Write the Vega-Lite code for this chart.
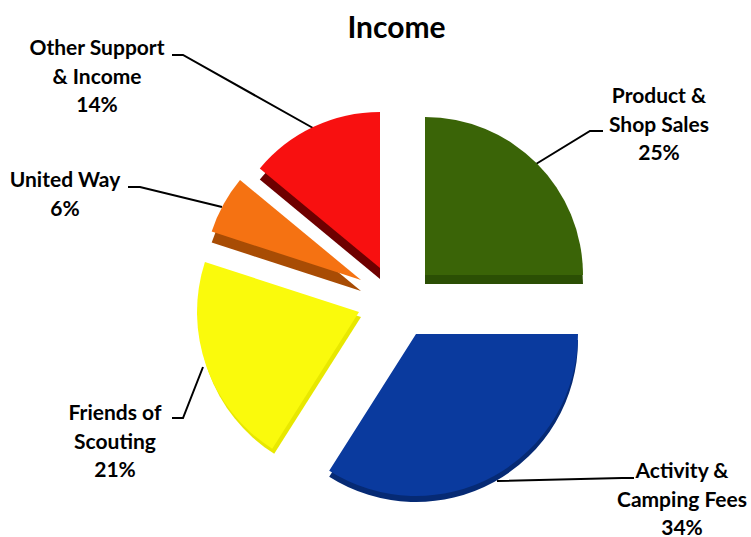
{"$schema":"https://vega.github.io/schema/vega-lite/v6.json","width":751,"height":497,"padding":{"top":40,"left":0,"right":0,"bottom":0},"autosize":{"type":"none"},"background":"white","view":{"stroke":null},
"title":{"text":"Income","font":"Lato","fontSize":30,"fontWeight":"bold","color":"#000000","anchor":"middle","dx":21,"dy":39,"offset":3,"baseline":"bottom"},
"data":{"values":[{"category":"Product & Shop Sales","share":25,"order":1,"label":"Product &\nShop Sales\n25%"},{"category":"Activity & Camping Fees","share":34,"order":2,"label":"Activity &\nCamping Fees\n34%"},{"category":"Friends of Scouting","share":21,"order":3,"label":"Friends of\nScouting\n21%"},{"category":"United Way","share":6,"order":4,"label":"United Way\n6%"},{"category":"Other Support & Income","share":14,"order":5,"label":"Other Support\n& Income\n14%"}]},
"transform":[{"stack":"share","as":["s0","s1"],"groupby":[],"sort":[{"field":"order","order":"ascending"}]}],
"encoding":{"theta":{"field":"s0","type":"quantitative","stack":null,"scale":{"domain":[0,100],"range":[0,6.28318]}},"theta2":{"field":"s1"}},
"layer":[
{"data":{"values":[{"leader":"a","n":1,"px":536,"py":164},{"leader":"a","n":2,"px":590,"py":131},{"leader":"a","n":3,"px":603,"py":131},{"leader":"b","n":1,"px":497,"py":481},{"leader":"b","n":2,"px":622,"py":478},{"leader":"b","n":3,"px":634,"py":478},{"leader":"c","n":1,"px":203,"py":367},{"leader":"c","n":2,"px":183,"py":418},{"leader":"c","n":3,"px":172,"py":418},{"leader":"d","n":1,"px":222,"py":207},{"leader":"d","n":2,"px":140,"py":187},{"leader":"d","n":3,"px":128,"py":187},{"leader":"e","n":1,"px":313,"py":128},{"leader":"e","n":2,"px":183,"py":55},{"leader":"e","n":3,"px":172,"py":55}]},"mark":{"type":"line","color":"#000000","strokeWidth":2,"interpolate":"linear"},"encoding":{"theta":null,"theta2":null,"x":{"field":"px","type":"quantitative","scale":{"domain":[0,751],"range":[0,751],"nice":false,"zero":false},"axis":null},"y":{"field":"py","type":"quantitative","scale":{"domain":[40,537],"range":[0,497],"nice":false,"zero":false},"axis":null},"detail":{"field":"leader"},"order":{"field":"n"}}},
{"transform":[{"filter":"datum.order===1"}],"mark":{"type":"arc","radius":158,"color":"#2b4f04"},"encoding":{"x":{"datum":425},"y":{"datum":284}}},
{"transform":[{"filter":"datum.order===1"}],"mark":{"type":"arc","radius":158,"color":"#3a6407"},"encoding":{"x":{"datum":425},"y":{"datum":275}}},
{"transform":[{"filter":"datum.order===2"}],"mark":{"type":"arc","radius":162,"color":"#062a74"},"encoding":{"x":{"datum":416},"y":{"datum":340}}},
{"transform":[{"filter":"datum.order===2"}],"mark":{"type":"arc","radius":162,"color":"#0a3a9e"},"encoding":{"x":{"datum":416},"y":{"datum":334}}},
{"transform":[{"filter":"datum.order===3"}],"mark":{"type":"arc","radius":162,"color":"#e8e800"},"encoding":{"x":{"datum":361},"y":{"datum":317}}},
{"transform":[{"filter":"datum.order===3"}],"mark":{"type":"arc","radius":162,"color":"#fafa0c"},"encoding":{"x":{"datum":359},"y":{"datum":312}}},
{"transform":[{"filter":"datum.order===4"}],"mark":{"type":"arc","radius":157,"color":"#a84c04"},"encoding":{"x":{"datum":361},"y":{"datum":291}}},
{"transform":[{"filter":"datum.order===4"}],"mark":{"type":"arc","radius":157,"color":"#f57212"},"encoding":{"x":{"datum":361},"y":{"datum":280}}},
{"transform":[{"filter":"datum.order===5"}],"mark":{"type":"arc","radius":156,"color":"#6e0000"},"encoding":{"x":{"datum":380},"y":{"datum":279}}},
{"transform":[{"filter":"datum.order===5"}],"mark":{"type":"arc","radius":156,"color":"#f81010"},"encoding":{"x":{"datum":380},"y":{"datum":268}}},
{"transform":[{"filter":"datum.order===1"}],"mark":{"type":"text","font":"Lato","fontWeight":"bold","fontSize":21,"lineBreak":"\n","lineHeight":28.5,"align":"center","baseline":"middle","color":"#000000"},"encoding":{"theta":null,"theta2":null,"x":{"datum":659},"y":{"datum":97},"text":{"field":"label"}}},
{"transform":[{"filter":"datum.order===2"}],"mark":{"type":"text","font":"Lato","fontWeight":"bold","fontSize":21,"lineBreak":"\n","lineHeight":28.5,"align":"center","baseline":"middle","color":"#000000"},"encoding":{"theta":null,"theta2":null,"x":{"datum":682},"y":{"datum":472},"text":{"field":"label"}}},
{"transform":[{"filter":"datum.order===3"}],"mark":{"type":"text","font":"Lato","fontWeight":"bold","fontSize":21,"lineBreak":"\n","lineHeight":28.5,"align":"center","baseline":"middle","color":"#000000"},"encoding":{"theta":null,"theta2":null,"x":{"datum":115},"y":{"datum":414},"text":{"field":"label"}}},
{"transform":[{"filter":"datum.order===4"}],"mark":{"type":"text","font":"Lato","fontWeight":"bold","fontSize":21,"lineBreak":"\n","lineHeight":28.5,"align":"center","baseline":"middle","color":"#000000"},"encoding":{"theta":null,"theta2":null,"x":{"datum":65},"y":{"datum":181},"text":{"field":"label"}}},
{"transform":[{"filter":"datum.order===5"}],"mark":{"type":"text","font":"Lato","fontWeight":"bold","fontSize":21,"lineBreak":"\n","lineHeight":28.5,"align":"center","baseline":"middle","color":"#000000"},"encoding":{"theta":null,"theta2":null,"x":{"datum":97},"y":{"datum":49},"text":{"field":"label"}}}
]}
